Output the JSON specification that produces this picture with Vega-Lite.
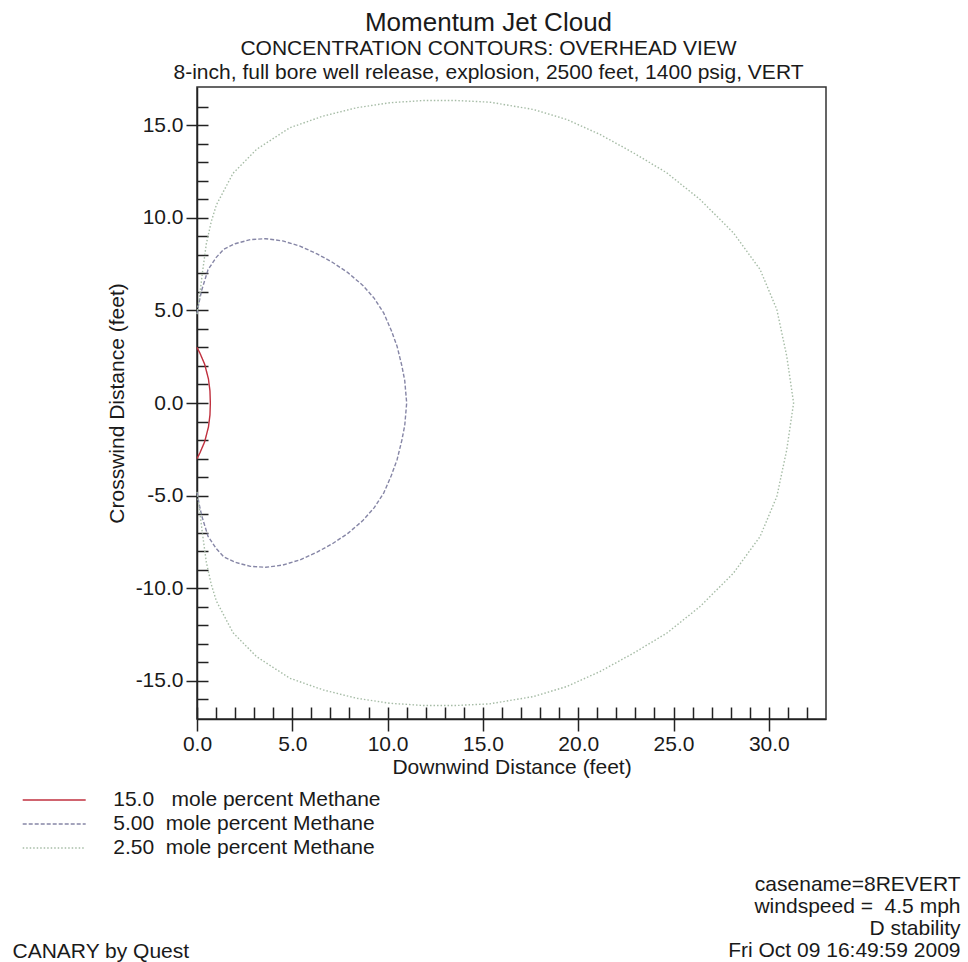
{
  "$schema": "https://vega.github.io/schema/vega-lite/v6.json",
  "width": 629,
  "height": 632,
  "autosize": {"type": "none"},
  "padding": {"left": 197, "top": 87, "right": 142, "bottom": 243},
  "background": "white",
  "title": {
    "text": "Momentum Jet Cloud",
    "subtitle": ["CONCENTRATION CONTOURS: OVERHEAD VIEW", "8-inch, full bore well release, explosion, 2500 feet, 1400 psig, VERT"],
    "font": "Liberation Sans",
    "subtitleFont": "Liberation Sans",
    "fontSize": 26,
    "fontWeight": "normal",
    "subtitleFontSize": 21,
    "color": "#1a1a1a",
    "subtitleColor": "#1a1a1a",
    "anchor": "middle",
    "frame": "group",
    "dx": -23,
    "offset": 4,
    "subtitlePadding": 2,
    "subtitleLineHeight": 24
  },
  "datasets": {
    "contours": [
      {"level": "15.0", "i": 0, "x": 0, "y": 3.0},
      {"level": "15.0", "i": 1, "x": 0.15, "y": 2.7},
      {"level": "15.0", "i": 2, "x": 0.4, "y": 2.1},
      {"level": "15.0", "i": 3, "x": 0.6, "y": 1.3},
      {"level": "15.0", "i": 4, "x": 0.68, "y": 0.65},
      {"level": "15.0", "i": 5, "x": 0.7, "y": 0},
      {"level": "15.0", "i": 6, "x": 0.68, "y": -0.65},
      {"level": "15.0", "i": 7, "x": 0.6, "y": -1.3},
      {"level": "15.0", "i": 8, "x": 0.4, "y": -2.1},
      {"level": "15.0", "i": 9, "x": 0.15, "y": -2.7},
      {"level": "15.0", "i": 10, "x": 0, "y": -3.0},

      {"level": "5.00", "i": 0, "x": 0, "y": 4.8},
      {"level": "5.00", "i": 1, "x": 0.1, "y": 5.4},
      {"level": "5.00", "i": 2, "x": 0.25, "y": 6.1},
      {"level": "5.00", "i": 3, "x": 0.58, "y": 7.2},
      {"level": "5.00", "i": 4, "x": 1.0, "y": 7.85},
      {"level": "5.00", "i": 5, "x": 1.4, "y": 8.3},
      {"level": "5.00", "i": 6, "x": 2.0, "y": 8.6},
      {"level": "5.00", "i": 7, "x": 2.8, "y": 8.82},
      {"level": "5.00", "i": 8, "x": 3.6, "y": 8.87},
      {"level": "5.00", "i": 9, "x": 4.5, "y": 8.75},
      {"level": "5.00", "i": 10, "x": 5.4, "y": 8.47},
      {"level": "5.00", "i": 11, "x": 6.3, "y": 8.05},
      {"level": "5.00", "i": 12, "x": 7.1, "y": 7.6},
      {"level": "5.00", "i": 13, "x": 7.9, "y": 7.05},
      {"level": "5.00", "i": 14, "x": 8.7, "y": 6.35},
      {"level": "5.00", "i": 15, "x": 9.3, "y": 5.65},
      {"level": "5.00", "i": 16, "x": 9.8, "y": 4.85},
      {"level": "5.00", "i": 17, "x": 10.2, "y": 3.9},
      {"level": "5.00", "i": 18, "x": 10.5, "y": 3.05},
      {"level": "5.00", "i": 19, "x": 10.75, "y": 2.0},
      {"level": "5.00", "i": 20, "x": 10.9, "y": 1.2},
      {"level": "5.00", "i": 21, "x": 11.0, "y": 0},
      {"level": "5.00", "i": 22, "x": 10.9, "y": -1.2},
      {"level": "5.00", "i": 23, "x": 10.75, "y": -2.0},
      {"level": "5.00", "i": 24, "x": 10.5, "y": -3.05},
      {"level": "5.00", "i": 25, "x": 10.2, "y": -3.9},
      {"level": "5.00", "i": 26, "x": 9.8, "y": -4.85},
      {"level": "5.00", "i": 27, "x": 9.3, "y": -5.65},
      {"level": "5.00", "i": 28, "x": 8.7, "y": -6.35},
      {"level": "5.00", "i": 29, "x": 7.9, "y": -7.05},
      {"level": "5.00", "i": 30, "x": 7.1, "y": -7.6},
      {"level": "5.00", "i": 31, "x": 6.3, "y": -8.05},
      {"level": "5.00", "i": 32, "x": 5.4, "y": -8.47},
      {"level": "5.00", "i": 33, "x": 4.5, "y": -8.75},
      {"level": "5.00", "i": 34, "x": 3.6, "y": -8.87},
      {"level": "5.00", "i": 35, "x": 2.8, "y": -8.82},
      {"level": "5.00", "i": 36, "x": 2.0, "y": -8.6},
      {"level": "5.00", "i": 37, "x": 1.4, "y": -8.3},
      {"level": "5.00", "i": 38, "x": 1.0, "y": -7.85},
      {"level": "5.00", "i": 39, "x": 0.58, "y": -7.2},
      {"level": "5.00", "i": 40, "x": 0.25, "y": -6.1},
      {"level": "5.00", "i": 41, "x": 0.1, "y": -5.4},
      {"level": "5.00", "i": 42, "x": 0, "y": -4.8},

      {"level": "2.50", "i": 0, "x": 0, "y": 4.8},
      {"level": "2.50", "i": 1, "x": 0.14, "y": 5.8},
      {"level": "2.50", "i": 2, "x": 0.28, "y": 7.0},
      {"level": "2.50", "i": 3, "x": 0.49, "y": 8.6},
      {"level": "2.50", "i": 4, "x": 0.75, "y": 9.8},
      {"level": "2.50", "i": 5, "x": 1.02, "y": 10.7},
      {"level": "2.50", "i": 6, "x": 1.89, "y": 12.4},
      {"level": "2.50", "i": 7, "x": 3.12, "y": 13.69},
      {"level": "2.50", "i": 8, "x": 4.87, "y": 14.86},
      {"level": "2.50", "i": 9, "x": 6.62, "y": 15.49},
      {"level": "2.50", "i": 10, "x": 8.37, "y": 15.94},
      {"level": "2.50", "i": 11, "x": 10.12, "y": 16.21},
      {"level": "2.50", "i": 12, "x": 11.87, "y": 16.33},
      {"level": "2.50", "i": 13, "x": 13.62, "y": 16.33},
      {"level": "2.50", "i": 14, "x": 15.37, "y": 16.24},
      {"level": "2.50", "i": 15, "x": 17.64, "y": 15.85},
      {"level": "2.50", "i": 16, "x": 19.39, "y": 15.31},
      {"level": "2.50", "i": 17, "x": 21.14, "y": 14.5},
      {"level": "2.50", "i": 18, "x": 22.89, "y": 13.51},
      {"level": "2.50", "i": 19, "x": 24.64, "y": 12.43},
      {"level": "2.50", "i": 20, "x": 26.39, "y": 10.99},
      {"level": "2.50", "i": 21, "x": 28.14, "y": 9.19},
      {"level": "2.50", "i": 22, "x": 29.54, "y": 7.21},
      {"level": "2.50", "i": 23, "x": 30.42, "y": 5.05},
      {"level": "2.50", "i": 24, "x": 30.94, "y": 2.53},
      {"level": "2.50", "i": 25, "x": 31.3, "y": 0},
      {"level": "2.50", "i": 26, "x": 30.94, "y": -2.53},
      {"level": "2.50", "i": 27, "x": 30.42, "y": -5.05},
      {"level": "2.50", "i": 28, "x": 29.54, "y": -7.21},
      {"level": "2.50", "i": 29, "x": 28.14, "y": -9.19},
      {"level": "2.50", "i": 30, "x": 26.39, "y": -10.99},
      {"level": "2.50", "i": 31, "x": 24.64, "y": -12.43},
      {"level": "2.50", "i": 32, "x": 22.89, "y": -13.51},
      {"level": "2.50", "i": 33, "x": 21.14, "y": -14.5},
      {"level": "2.50", "i": 34, "x": 19.39, "y": -15.31},
      {"level": "2.50", "i": 35, "x": 17.64, "y": -15.85},
      {"level": "2.50", "i": 36, "x": 15.37, "y": -16.24},
      {"level": "2.50", "i": 37, "x": 13.62, "y": -16.33},
      {"level": "2.50", "i": 38, "x": 11.87, "y": -16.33},
      {"level": "2.50", "i": 39, "x": 10.12, "y": -16.21},
      {"level": "2.50", "i": 40, "x": 8.37, "y": -15.94},
      {"level": "2.50", "i": 41, "x": 6.62, "y": -15.49},
      {"level": "2.50", "i": 42, "x": 4.87, "y": -14.86},
      {"level": "2.50", "i": 43, "x": 3.12, "y": -13.69},
      {"level": "2.50", "i": 44, "x": 1.89, "y": -12.4},
      {"level": "2.50", "i": 45, "x": 1.02, "y": -10.7},
      {"level": "2.50", "i": 46, "x": 0.75, "y": -9.8},
      {"level": "2.50", "i": 47, "x": 0.49, "y": -8.6},
      {"level": "2.50", "i": 48, "x": 0.28, "y": -7.0},
      {"level": "2.50", "i": 49, "x": 0.14, "y": -5.8},
      {"level": "2.50", "i": 50, "x": 0, "y": -4.8}
    ]
  },
  "data": {"name": "contours"},
  "resolve": {"axis": {"x": "independent", "y": "independent"}},
  "layer": [
    {
      "mark": {"type": "line", "strokeWidth": 1.4},
      "encoding": {
        "x": {
          "field": "x", "type": "quantitative",
          "scale": {"domain": [0, 33], "nice": false, "zero": false},
          "axis": {
            "orient": "bottom",
            "values": [0, 5, 10, 15, 20, 25, 30],
            "format": ".1f",
            "labelFlush": false,
            "tickSize": 12,
            "labelPadding": 2,
            "title": "Downwind Distance (feet)",
            "titlePadding": 2
          }
        },
        "y": {
          "field": "y", "type": "quantitative",
          "scale": {"domain": [-17.06, 17.06], "nice": false, "zero": false},
          "axis": {
            "orient": "left",
            "values": [-15, -10, -5, 0, 5, 10, 15],
            "labelExpr": "datum.value < 0 ? '-' + format(-datum.value, '.1f') : format(datum.value, '.1f')",
            "labelFlush": false,
            "tickSize": 11,
            "labelPadding": 3,
            "title": "Crosswind Distance (feet)",
            "titlePadding": 8
          }
        },
        "order": {"field": "i", "type": "quantitative"},
        "color": {
          "field": "level", "type": "nominal",
          "scale": {"domain": ["15.0", "5.00", "2.50"], "range": ["#c0303e", "#8686a6", "#a6bca6"]},
          "legend": {
            "orient": "none", "legendX": -153.8, "legendY": 702, "title": null,
            "symbolType": "M-3.15,0H3.15", "symbolSize": 400, "symbolStrokeWidth": 1.4,
            "labelFontSize": 21, "labelFont": "Liberation Sans", "labelColor": "#1a1a1a",
            "labelOffset": 48, "labelLimit": 500, "rowPadding": 3, "padding": 0,
            "labelExpr": "datum.label == '15.0' ? '15.0\u00a0\u00a0\u00a0mole percent Methane' : '\u00a0' + datum.label + '\u00a0\u00a0mole percent Methane'"
          }
        },
        "strokeDash": {
          "field": "level", "type": "nominal",
          "scale": {"domain": ["15.0", "5.00", "2.50"], "range": [[1, 0], [4, 2], [1.5, 2]]},
          "legend": {
            "orient": "none", "legendX": -153.8, "legendY": 702, "title": null,
            "symbolType": "M-3.15,0H3.15", "symbolSize": 400, "symbolStrokeWidth": 1.4,
            "labelFontSize": 21, "labelFont": "Liberation Sans", "labelColor": "#1a1a1a",
            "labelOffset": 48, "labelLimit": 500, "rowPadding": 3, "padding": 0,
            "labelExpr": "datum.label == '15.0' ? '15.0\u00a0\u00a0\u00a0mole percent Methane' : '\u00a0' + datum.label + '\u00a0\u00a0mole percent Methane'"
          }
        }
      }
    },
    {
      "mark": {"type": "point", "opacity": 0},
      "encoding": {
        "x": {
          "field": "x", "type": "quantitative",
          "scale": {"domain": [0, 33], "nice": false, "zero": false},
          "axis": {
            "orient": "bottom",
            "values": [0,1,2,3,4,5,6,7,8,9,10,11,12,13,14,15,16,17,18,19,20,21,22,23,24,25,26,27,28,29,30,31,32],
            "tickSize": -12, "labels": false, "domain": false, "title": null
          }
        },
        "y": {
          "field": "y", "type": "quantitative",
          "scale": {"domain": [-17.06, 17.06], "nice": false, "zero": false},
          "axis": {
            "orient": "left",
            "values": [-16,-15,-14,-13,-12,-11,-10,-9,-8,-7,-6,-5,-4,-3,-2,-1,0,1,2,3,4,5,6,7,8,9,10,11,12,13,14,15,16],
            "tickSize": -11, "labels": false, "domain": false, "title": null
          }
        }
      }
    },
    {
      "mark": {"type": "point", "opacity": 0},
      "encoding": {
        "x": {
          "field": "x", "type": "quantitative",
          "scale": {"domain": [0, 33], "nice": false, "zero": false},
          "axis": {
            "orient": "bottom", "labels": false, "ticks": false, "domain": false,
            "title": "CANARY by Quest", "titleX": -185, "titleY": 238,
            "titleAlign": "left", "titleBaseline": "alphabetic", "titleAngle": 0
          }
        },
        "y": {
          "field": "y", "type": "quantitative",
          "scale": {"domain": [-17.06, 17.06], "nice": false, "zero": false},
          "axis": {
            "orient": "right", "labels": false, "ticks": false, "domain": false,
            "title": ["casename=8REVERT", "windspeed =\u00a0 4.5 mph", "D stability", "Fri Oct 09 16:49:59 2009"],
            "titleX": 134, "titleY": 803, "titleAlign": "right",
            "titleBaseline": "alphabetic", "titleAngle": 0, "titleLineHeight": 22.3
          }
        }
      }
    }
  ],
  "config": {
    "font": "Liberation Sans",
    "view": {"stroke": "#333333", "strokeWidth": 1.5},
    "axis": {
      "grid": false,
      "labelFont": "Liberation Sans", "labelFontSize": 21, "labelColor": "#1a1a1a",
      "titleFont": "Liberation Sans", "titleFontSize": 21, "titleFontWeight": "normal", "titleColor": "#1a1a1a",
      "tickColor": "#222222", "tickWidth": 1.5, "domainColor": "#222222", "domainWidth": 1.5
    }
  }
}
